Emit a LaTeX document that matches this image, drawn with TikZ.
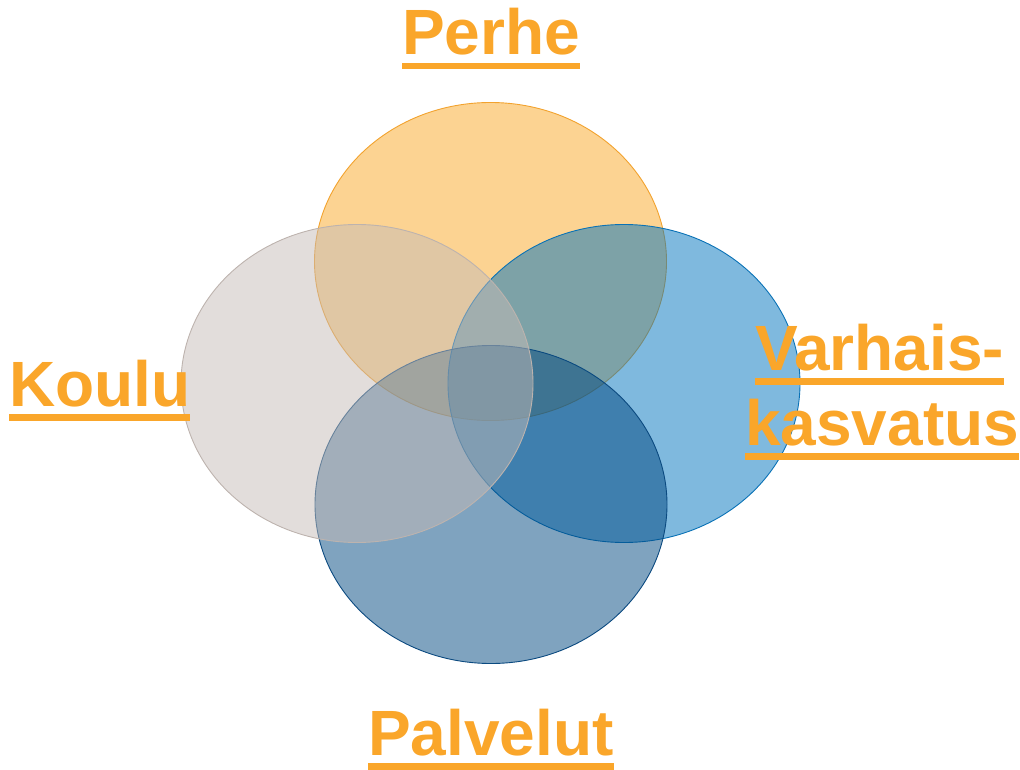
\documentclass[tikz,border=0pt]{standalone}
\usepackage{fontspec}
\setmainfont{Liberation Sans}
\usetikzlibrary{shapes.geometric}
\definecolor{txtor}{HTML}{FAA62A}
\definecolor{perheC}{HTML}{F9A825}
\definecolor{perheE}{HTML}{F2A22E}
\definecolor{kouluC}{HTML}{C5BBB7}
\definecolor{kouluE}{HTML}{BDB3AE}
\definecolor{varhC}{HTML}{0073BD}
\definecolor{varhE}{HTML}{0A72B6}
\definecolor{palvC}{HTML}{00477F}
\definecolor{palvE}{HTML}{0B4A80}
\newcommand{\ulword}[1]{\setbox0\hbox{#1}\leavevmode\rlap{\rule[-14.5pt]{\wd0}{6.5pt}}\box0}
\tikzset{
  venn/.style={ellipse, minimum width=352pt, minimum height=318pt, inner sep=0pt, line width=0.9pt, fill opacity=0.5, draw opacity=1},
  lbl/.style={anchor=base west, inner sep=0pt, text=txtor, font=\fontsize{64}{75}\selectfont\bfseries}
}
\begin{document}
\begin{tikzpicture}[x=1pt,y=-1pt]
\useasboundingbox (0,0) rectangle (1020,770);
\node[venn, draw=perheE, fill=perheC] (perhe) at (490.5,261.5) {};
\node[venn, draw=varhE, fill=varhC] (varh) at (624,383.5) {};
\node[venn, draw=palvE, fill=palvC] (palv) at (491,504.5) {};
\node[venn, draw=kouluE, fill=kouluC] (koulu) at (357,383.5) {};
\node[lbl] (tperhe) at (402,55) {\ulword{Perhe}};
\node[lbl] (tkoulu) at (9,406) {\ulword{Koulu}};
\node[lbl] (tvarh1) at (755,370) {\ulword{Varhais-}};
\node[lbl] (tvarh2) at (745,445) {\ulword{kasvatus}};
\node[lbl] (tpalv) at (368,755) {\ulword{Palvelut}};
\end{tikzpicture}
\end{document}
